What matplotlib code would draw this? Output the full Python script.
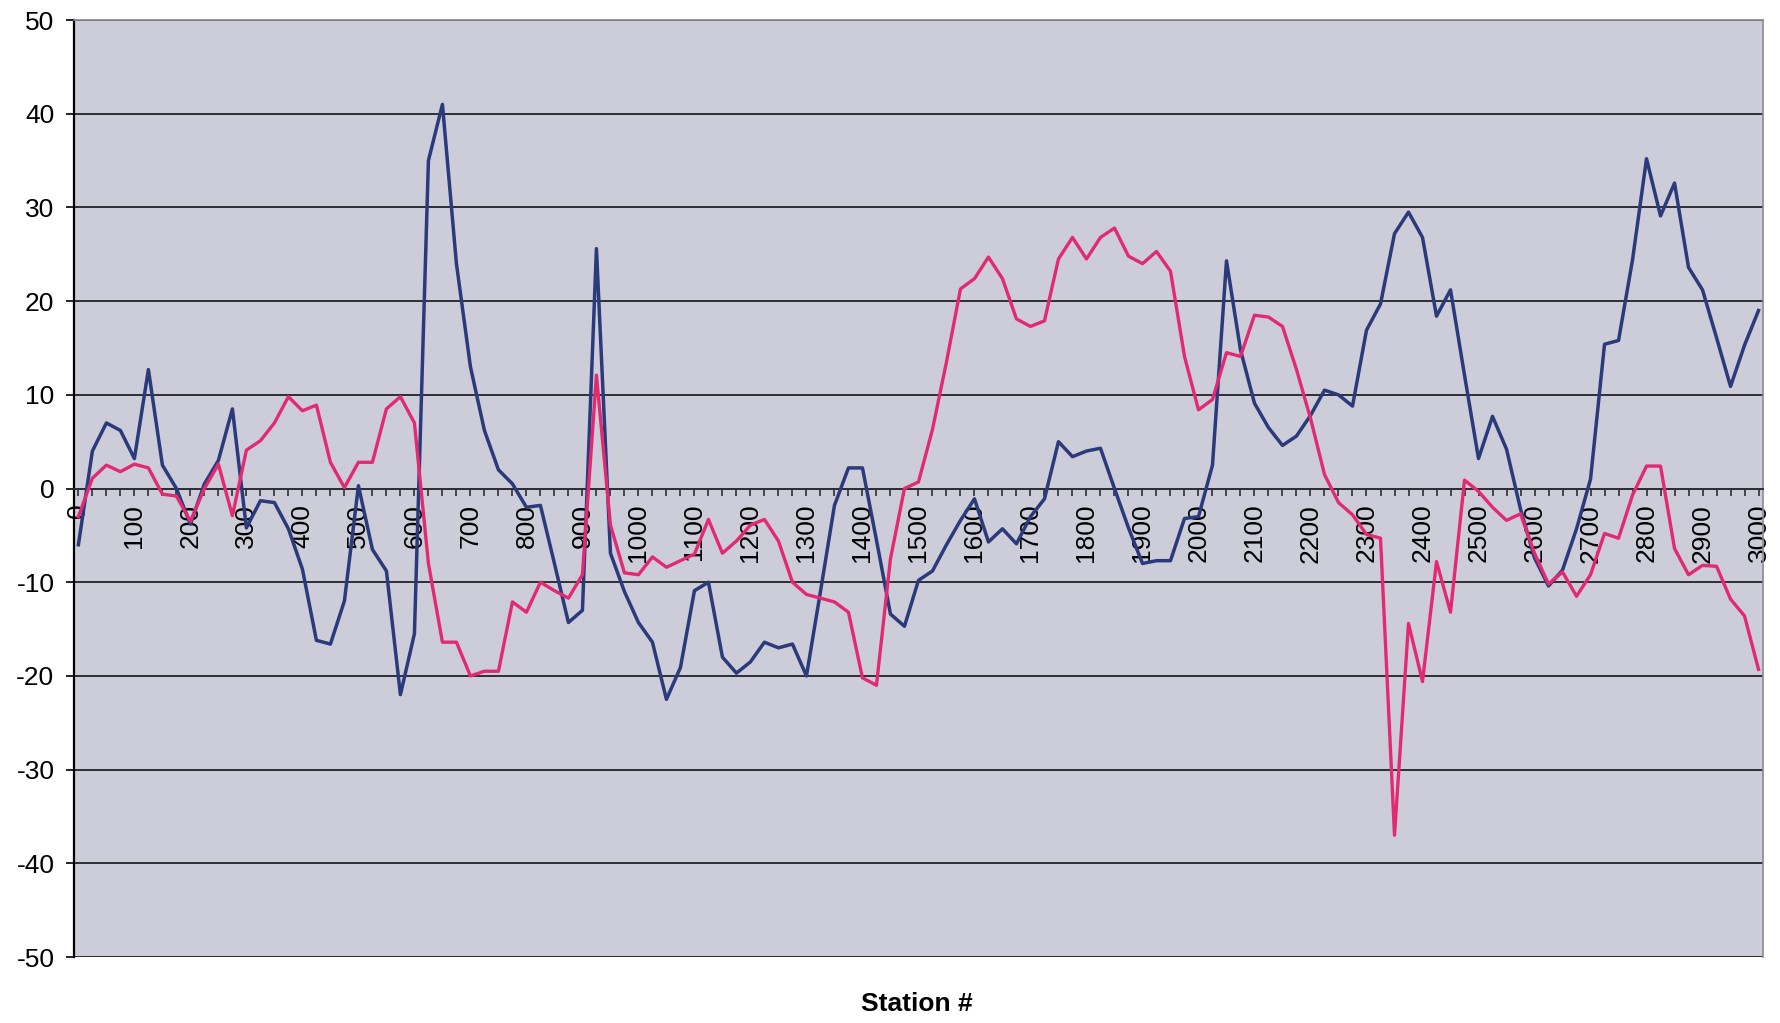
import numpy as np
import matplotlib
matplotlib.use("Agg")
import matplotlib.pyplot as plt
from matplotlib.ticker import MultipleLocator

# Station positions (every 25 units, 0 .. 3000)
stations = list(range(0, 3001, 25))

# First profile (dark blue)
series_blue = [
    -6.0, 4.0, 7.0, 6.2, 3.2, 12.7, 2.5, 0.0, -3.8, 0.5,
    3.0, 8.5, -4.2, -1.3, -1.5, -4.3, -8.6, -16.2, -16.6, -12.0,
    0.3, -6.5, -8.8, -22.0, -15.5, 35.0, 41.0, 24.0, 13.0, 6.2,
    2.0, 0.5, -2.0, -1.8, -8.0, -14.3, -13.0, 25.6, -6.9, -11.0,
    -14.3, -16.4, -22.5, -19.1, -10.9, -10.0, -18.0, -19.7, -18.5, -16.4,
    -17.0, -16.6, -20.0, -11.0, -1.8, 2.2, 2.2, -5.5, -13.4, -14.7,
    -9.8, -8.8, -6.0, -3.4, -1.1, -5.7, -4.3, -5.9, -3.0, -1.1,
    5.0, 3.4, 4.0, 4.3, 0.0, -4.2, -8.0, -7.7, -7.7, -3.2,
    -3.0, 2.5, 24.3, 14.8, 9.1, 6.5, 4.6, 5.6, 7.8, 10.5,
    10.0, 8.8, 16.9, 19.7, 27.2, 29.5, 26.8, 18.4, 21.2, 12.1,
    3.2, 7.7, 4.2, -2.2, -7.4, -10.4, -8.7, -4.3, 1.0, 15.4,
    15.8, 24.4, 35.2, 29.1, 32.6, 23.6, 21.2, 16.1, 10.9, 15.3,
    19.0,
]

# Second profile (magenta)
series_pink = [
    -3.0, 1.1, 2.5, 1.8, 2.6, 2.2, -0.6, -0.8, -3.5, 0.0,
    2.6, -2.9, 4.1, 5.1, 7.0, 9.8, 8.3, 8.9, 2.8, 0.1,
    2.8, 2.8, 8.5, 9.8, 7.0, -8.0, -16.4, -16.4, -20.0, -19.5,
    -19.5, -12.1, -13.2, -10.0, -10.9, -11.7, -9.2, 12.1, -3.9, -9.0,
    -9.2, -7.3, -8.4, -7.7, -7.0, -3.3, -6.9, -5.6, -3.9, -3.3,
    -5.6, -10.0, -11.3, -11.7, -12.1, -13.2, -20.2, -21.0, -7.5, 0.0,
    0.7, 6.3, 13.5, 21.3, 22.4, 24.7, 22.4, 18.1, 17.3, 17.9,
    24.5, 26.8, 24.5, 26.8, 27.8, 24.8, 24.0, 25.3, 23.2, 14.1,
    8.4, 9.5, 14.5, 14.1, 18.5, 18.3, 17.3, 12.7, 7.5, 1.5,
    -1.5, -2.8, -4.9, -5.3, -37.0, -14.4, -20.6, -7.8, -13.2, 0.9,
    -0.3, -2.0, -3.4, -2.7, -6.9, -10.2, -8.9, -11.5, -9.2, -4.8,
    -5.3, -0.7, 2.4, 2.4, -6.4, -9.2, -8.2, -8.3, -11.8, -13.6,
    -19.3,
]

y_ticks = list(range(-50, 51, 10))
x_label_ticks = list(range(0, 3001, 100))
x_title = "Station #"

plt.rcParams["font.family"] = ["Liberation Sans", "DejaVu Sans"]
plt.rcParams["axes.unicode_minus"] = False

fig = plt.figure(figsize=(17.81, 10.23), dpi=100)
fig.patch.set_facecolor("white")
ax = fig.add_axes([0.0415, 0.0645, 0.9484, 0.9159])
ax.set_facecolor("#CDCCD9")

ax.plot(stations, series_blue, color="#2A3A7A", lw=2.5, zorder=3)
ax.plot(stations, series_pink, color="#E22A72", lw=2.4, zorder=3)

ax.set_xlim(-8, 3008)
ax.set_ylim(-50, 50)

# horizontal gridlines
ax.set_yticks(y_ticks)
ax.yaxis.grid(True, color="#2E2E34", lw=1.4, zorder=1)
ax.xaxis.grid(False)
ax.set_axisbelow(True)

# category-style axis crossing at zero
ax.spines["bottom"].set_position(("data", 0))
ax.spines["bottom"].set_color("#2E2E34")
ax.spines["bottom"].set_linewidth(1.4)
ax.spines["left"].set_color("black")
ax.spines["left"].set_linewidth(1.6)
ax.spines["top"].set_color("#8A8A90")
ax.spines["top"].set_linewidth(1.2)
ax.spines["right"].set_color("#8A8A90")
ax.spines["right"].set_linewidth(1.2)

ax.set_xticks(x_label_ticks)
ax.set_xticklabels([str(v) for v in x_label_ticks], rotation=90, fontsize=19)
ax.xaxis.set_minor_locator(MultipleLocator(25))
ax.tick_params(axis="x", which="both", direction="out", length=5,
               width=1.2, color="#2E2E34", pad=6)
ax.tick_params(axis="y", direction="out", length=6, width=1.2,
               color="black", labelsize=19, pad=8)

# bottom frame line at -50
ax.axhline(-50, color="#2E2E34", lw=2.0, zorder=2)

fig.text(0.515, 0.019, x_title, ha="center", va="center",
         fontsize=19, fontweight="bold")

fig.savefig("out.png", dpi=100)
